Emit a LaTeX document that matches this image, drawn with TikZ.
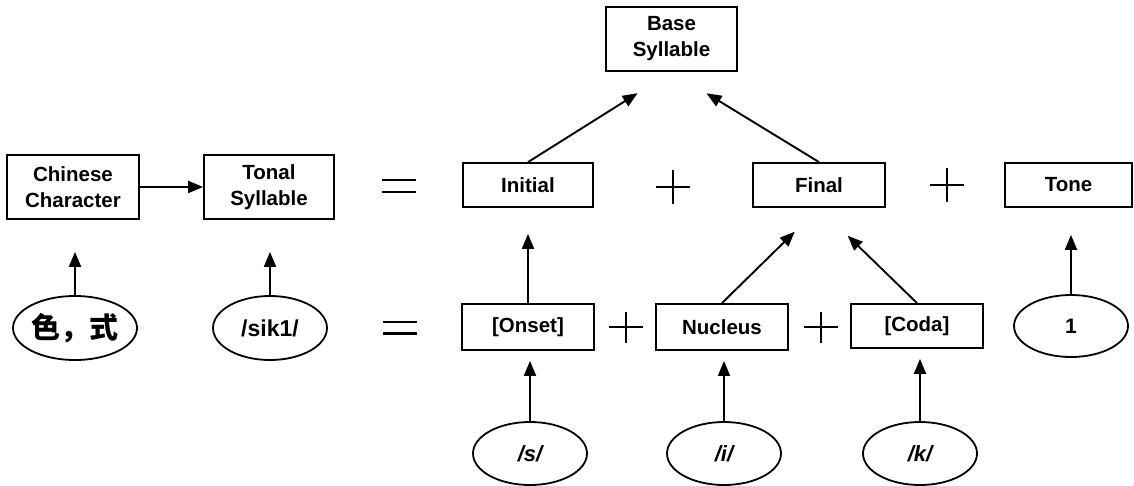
\documentclass[tikz,border=0pt]{standalone}
\usepackage{fontspec}
\setmainfont{Liberation Sans}
\newfontfamily\cjkfont{Noto Sans CJK SC}
\usetikzlibrary{arrows.meta,shapes.geometric}

\begin{document}
\begin{tikzpicture}[x=1pt,y=-1pt,
  box/.style={draw, line width=1.8pt, rectangle, inner sep=0pt, align=center,
    font=\fontsize{20.5}{26}\selectfont\bfseries},
  oval/.style={draw, line width=1.8pt, ellipse, inner sep=0pt,
    minimum width=114pt, minimum height=63pt,
    font=\fontsize{22}{26}\selectfont\bfseries},
  arr/.style={line width=1.9pt, -{Triangle[length=15pt,width=12pt]}},
  op/.style={line width=2pt},
  eq/.style={line width=2.8pt}]
\useasboundingbox (0,0) rectangle (1134,486);

% --- top row: character, syllable and its parts
\node[box, minimum width=132pt, minimum height=64pt] (cc)    at (73,187)    {Chinese\\Character};
\node[box, minimum width=130pt, minimum height=64pt] (tonal) at (269,187)   {Tonal\\Syllable};
\node[box, minimum width=131pt, minimum height=64pt] (base)  at (671.5,39)  {Base\\Syllable};
\node[box, minimum width=130pt, minimum height=44pt] (initial) at (528,185) {Initial};
\node[box, minimum width=132pt, minimum height=44pt] (final)   at (819,185) {Final};
\node[box, minimum width=127pt, minimum height=44pt] (tone)    at (1068.5,185) {Tone};

% --- middle row: syllable structure
\node[box, minimum width=132pt, minimum height=46pt] (onset)   at (528,327) {[Onset]};
\node[box, minimum width=132pt, minimum height=46pt] (nucleus) at (722,327) {Nucleus};
\node[box, minimum width=132pt, minimum height=44pt] (coda)    at (917,326) {[Coda]};

% --- example values
\node[oval, minimum width=124pt, minimum height=64pt, font=\fontsize{29}{30}\selectfont\cjkfont\bfseries] (chr) at (75,328) {色，式};
\node[oval, minimum height=64pt, font=\fontsize{23}{26}\selectfont\bfseries] (sik) at (270,328) {/sik1/};
\node[oval, font=\fontsize{22}{26}\selectfont\bfseries\itshape] (s) at (530,453.5) {/s/};
\node[oval, font=\fontsize{22}{26}\selectfont\bfseries\itshape] (i) at (724,453.5) {/i/};
\node[oval, font=\fontsize{22}{26}\selectfont\bfseries\itshape] (k) at (920,453.5) {/k/};
\node[oval, minimum height=62pt, font=\fontsize{21}{26}\selectfont\bfseries] (one) at (1071,326) {1};

% --- connectors
\draw[arr] (cc.east) -- (tonal.west);
\draw[arr, shorten >=40pt] (initial.north) -- (base.south);
\draw[arr, shorten >=41pt] (final.north) -- (base.south);
\draw[arr, shorten >=32pt] (chr.north) -- (chr.north |- cc.south);
\draw[arr, shorten >=32pt] (sik.north) -- (sik.north |- tonal.south);
\draw[arr, shorten >=26pt] (onset.north) -- (onset.north |- initial.south);
\draw[arr, shorten >=34pt] (nucleus.north) -- (final.south);
\draw[arr, shorten >=40pt] (coda.north) -- (final.south);
\draw[arr, shorten >=27pt] (one.north) -- (one.north |- tone.south);
\draw[arr, shorten >=10pt] (s.north) -- (s.north |- onset.south);
\draw[arr, shorten >=10pt] (i.north) -- (i.north |- nucleus.south);
\draw[arr, shorten >=10pt] (k.north) -- (k.north |- coda.south);

% --- equals signs
\draw[eq] (382,180) -- (416,180) (382,192) -- (416,192);
\draw[eq] (383,322) -- (417,322) (383,333.5) -- (417,333.5);

% --- plus signs
\draw[op] (656,187) -- (690,187) (673,170) -- (673,204);
\draw[op] (930,185) -- (964,185) (947,168) -- (947,202);
\draw[op] (609,327) -- (643,327) (626,312) -- (626,343);
\draw[op] (804,327) -- (838,327) (821,312) -- (821,343);
\end{tikzpicture}
\end{document}
